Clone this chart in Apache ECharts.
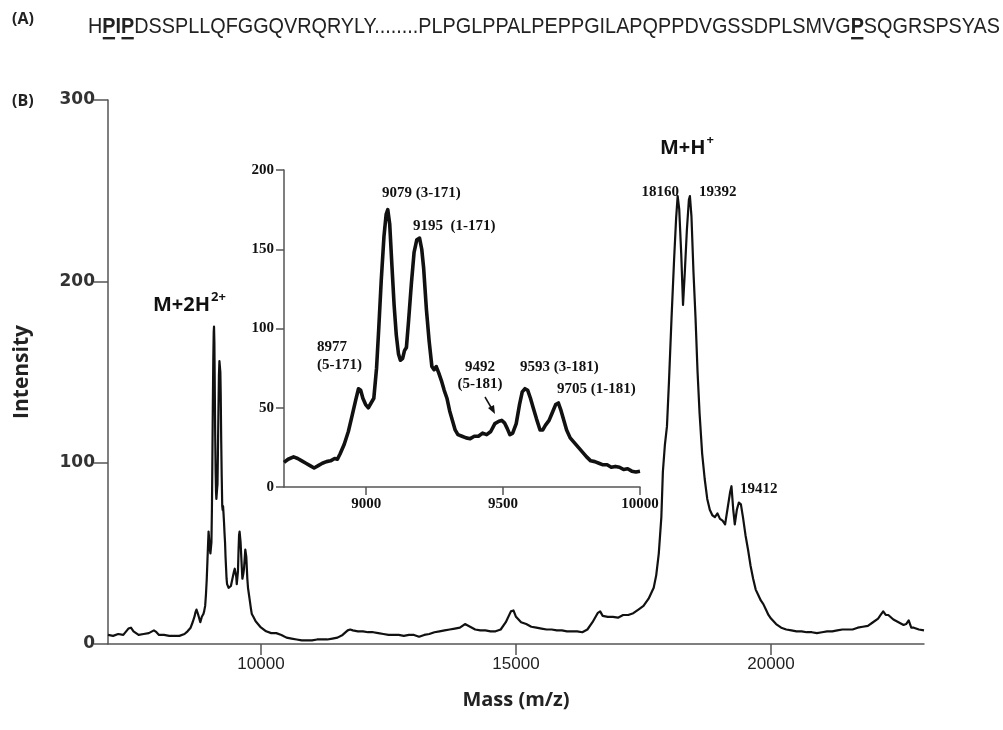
<!DOCTYPE html>
<html><head><meta charset="utf-8">
<script src="https://cdn.jsdelivr.net/npm/echarts@6/dist/echarts.min.js"></script>
<style>html,body{margin:0;padding:0;background:#fff}#c{width:1003px;height:730px}</style>
</head><body><div id="c"></div>
<script>
// ---------------- DATA ----------------
const massValues = [
 7000,7100,7200,7300,7400,7450,7500,7600,7700,7800,7900,7950,8000,8100,8200,8300,8400,8500,8560,8620,8660,
 8700,8715,8735,8750,8765,8780,8795,8810,8825,8840,8855,8870,8885,8895,8905,8920,8935,8950,8962,8972,8980,8988,8998,9008,9018,9028,9038,9046,9055,9065,9073,9079,9086,9094,9102,9110,9118,9125,9133,9140,9147,9155,9165,9175,9185,9195,9203,9210,9220,9230,9240,9248,9256,9265,9275,9285,9295,9305,9315,9325,9335,9350,9365,9380,9395,9410,9425,9440,9455,9470,9485,9495,9505,9515,9525,9535,9548,9560,9570,9580,9590,9600,9610,9622,9635,9645,9655,9668,9680,9692,9702,9712,9722,9732,9745,9760,9775,9790,9805,9820,9835,9850,9865,9880,9895,9910,9925,9940,9955,9970,9985,10000,
 10100,10200,10300,10400,10500,10600,10700,10800,10900,11000,11100,11200,11300,11400,11500,11600,11700,11750,11800,11900,12000,12100,12200,12300,12400,12500,12600,12700,12800,12900,13000,13100,13200,13300,13400,13500,13600,13700,13800,13900,14000,14100,14200,14300,14400,14500,14600,14700,14800,14900,14950,15000,15100,15200,15300,15400,15500,15600,15700,15800,15900,16000,16100,16200,16300,16400,16500,16600,16650,16700,16800,16900,17000,17100,17200,17300,17400,17500,17600,17700,17750,17800,17850,17880,17920,17960,18000,18050,18100,18140,18170,18200,18240,18275,18310,18350,18390,18410,18440,18480,18520,18560,18600,18650,18700,18750,18800,18850,18900,18950,19000,19050,19100,19150,19200,19225,19260,19290,19330,19370,19410,19450,19500,19550,19600,19650,19700,19750,19800,19850,19900,19950,20000,20100,20200,20300,20400,20500,20600,20700,20800,20900,21000,21100,21200,21300,21400,21500,21600,21700,21800,21900,22000,22100,22150,22200,22250,22300,22400,22500,22600,22650,22700,22750,22800,22900,23000
];
const intensityValues = [
 5,4.5,5.5,5,8.5,9,7,5,5.5,6,7.5,6.5,5,5,4.5,4.5,4.5,5.5,7,9,12,
 15.5,17.5,19,18,16.5,15,13.5,12,13.5,15,16,16.5,18,17.5,21,27,35,46,55,62,61,56,52,50,53,56,75,100,130,158,172,175,166,140,115,96,84,80,81,86,88,105,128,148,156,157,150,138,112,92,76,74,76,72,67,61,56,48,42,36,33,32,31,30.5,32,32,34,33,35,40,41.5,42,40.5,37,33,34,40,52,60,62,61,56,50,43,36,36,39,42,47,52,53,48,42,36,31,28,25,22,19,16.5,16,15,14,14,12.5,13,12.5,11,11.5,10,9.5,10,
 7,6,6,5,3.5,3,2.5,2,2,2,2.5,2.5,2.5,3,3.5,5,7.5,8,7.5,7,7,6.5,6.5,6,5.5,5,5,5,4.5,5,5,4,5,5.5,6.5,7,7.5,8,8.5,9,11,9.5,8,7.5,7.5,7,7,8,12,18,18.5,15,12,11,9.5,9,8.5,8,8,7.5,7.5,7,7,7,6.5,8,12,17,18,15.5,15,15,14.5,16,16,17,19,21,25,31,38,50,70,95,110,120,145,180,212,235,247,240,215,187,205,228,245,247,236,205,180,150,127,105,91,80,74,71,70,72,69,68,66,75,84,87,74,66,74,78,77,70,60,52,43,36,30,27,24,22,19,16,14,11,9,8,7.5,7,7,6.5,6.5,6,6.5,7,7,7.5,8,8,8,9,9.5,10,12,14,16,18,16,16,13.5,12,10.5,11,13,9,9,8,7.5
];
const mainXTicks = [10000, 15000, 20000];
const insetXTicks = [9000, 9500, 10000];
const insetMassRange = [8700, 10000];
const seqParts = [
 {t:'H', b:false, u:false},
 {t:'P', b:true, u:true},
 {t:'I', b:true, u:false},
 {t:'P', b:true, u:true},
 {t:'DSSPLLQFGGQVRQRYLY........PLPGLPPALPEPPGILAPQPPDVGSSDPLSMVG', b:false, u:false},
 {t:'P', b:true, u:true},
 {t:'SQGRSPSYAS', b:false, u:false}
];
const insetNotes = [
 ['9079 (3-171)', 'left'], ['9195  (1-171)', 'left'], ['8977', 'left'], ['(5-171)', 'left'],
 ['9492', 'center'], ['(5-181)', 'center'], ['9593 (3-181)', 'left'], ['9705 (1-181)', 'left']
];
const peakNotes = ['18160', '19392', '19412'];

// ---------------- CHART ----------------
const mainData = massValues.map((m, i) => [m, intensityValues[i]]);
const insetData = mainData.filter(p => p[0] >= insetMassRange[0] && p[0] <= insetMassRange[1]);

const SANS = '"Open Sans", "Noto Sans", sans-serif';
const SEQF = '"Liberation Sans", "Open Sans", sans-serif';
const SERIF = '"Liberation Serif", "DejaVu Serif", serif';
const ctx = document.createElement('canvas').getContext('2d');
function measure(text, font) { ctx.font = font; return ctx.measureText(text).width; }
const plain = v => String(v);

const axisCol = '#555';
const chart = echarts.init(document.getElementById('c'), null, {renderer: 'canvas'});

function txt(text, x, y, font, align, extra) {
  return {type: 'text', x: x, y: y, silent: true,
    style: Object.assign({text: text, font: font, fill: '#111', align: align || 'left', verticalAlign: 'middle',
      textAlign: align || 'left', textVerticalAlign: 'middle'}, extra || {})};
}

// sequence line
const seqSize = 22;
let cx = 0; const seqChildren = [];
seqParts.forEach(p => {
  const f = (p.b ? 'bold ' : '') + seqSize + 'px ' + SEQF;
  const w = measure(p.t, f);
  seqChildren.push({type: 'text', x: cx, y: 0, style: {text: p.t, font: f, fill: '#222', align: 'left', verticalAlign: 'middle', textAlign: 'left', textVerticalAlign: 'middle'}});
  if (p.u) seqChildren.push({type: 'rect', shape: {x: cx + 0.5, y: 10, width: w - 1, height: 2.4}, style: {fill: '#222'}});
  cx += w;
});
const seqScale = 912 / cx;

const bigFont = 'bold 20px ' + SANS;
const supFont = 'bold 13px ' + SANS;
const serifFont = 'bold 15px ' + SERIF;
const wM2H = measure('M+2H', bigFont);
const wMH = measure('M+H', bigFont);

const graphics = [
  txt('(A)', 12, 19, 'bold 16px ' + SANS, 'left', {fill: '#222'}),
  txt('(B)', 12, 101, 'bold 16px ' + SANS, 'left', {fill: '#222'}),
  {type: 'group', x: 88, y: 27, scaleX: seqScale, scaleY: 1, children: seqChildren},
  txt('M+2H', 153, 305, bigFont, 'left'),
  txt('2+', 153 + wM2H + 1, 297, supFont, 'left'),
  txt('M+H', 660, 148, bigFont, 'left'),
  txt('+', 660 + wMH + 1, 140, supFont, 'left'),
  txt(peakNotes[0], 679, 192, serifFont, 'right'),
  txt(peakNotes[1], 699, 192, serifFont, 'left'),
  txt(peakNotes[2], 740, 489, serifFont, 'left'),
  txt(insetNotes[0][0], 382, 193, serifFont, insetNotes[0][1]),
  txt(insetNotes[1][0], 413, 226, serifFont, insetNotes[1][1]),
  txt(insetNotes[2][0], 317, 347, serifFont, insetNotes[2][1]),
  txt(insetNotes[3][0], 317, 365, serifFont, insetNotes[3][1]),
  txt(insetNotes[4][0], 480, 367, serifFont, insetNotes[4][1]),
  txt(insetNotes[5][0], 480, 384, serifFont, insetNotes[5][1]),
  txt(insetNotes[6][0], 520, 367, serifFont, insetNotes[6][1]),
  txt(insetNotes[7][0], 557, 389, serifFont, insetNotes[7][1]),
  {type: 'line', silent: true, shape: {x1: 485, y1: 397, x2: 492, y2: 409}, style: {stroke: '#111', lineWidth: 1.5}},
  {type: 'polygon', silent: true, shape: {points: [[495, 414], [488, 408], [494, 405]]}, style: {fill: '#111'}}
];

const mainAxisCommon = {
  axisLine: {show: true, onZero: false, lineStyle: {color: axisCol, width: 1.5}},
  splitLine: {show: false}
};

chart.setOption({
  animation: false,
  backgroundColor: '#fff',
  grid: [
    {left: 108, top: 100, width: 816, height: 544, containLabel: false, outerBoundsMode: 'none'},
    {left: 284, top: 170, width: 356, height: 317, containLabel: false, outerBoundsMode: 'none'}
  ],
  xAxis: [
    Object.assign({gridIndex: 0, type: 'value', min: 7000, max: 23000,
      axisTick: {show: true, customValues: mainXTicks, length: 11, lineStyle: {color: axisCol, width: 1.5}},
      axisLabel: {customValues: mainXTicks, formatter: plain, margin: 12, color: '#222', fontSize: 17, fontFamily: SEQF},
      name: 'Mass (m/z)', nameLocation: 'middle', nameGap: 46,
      nameTextStyle: {fontFamily: SANS, fontWeight: 'bold', fontSize: 20, color: '#222'}}, mainAxisCommon),
    Object.assign({gridIndex: 1, type: 'value', min: insetMassRange[0], max: insetMassRange[1],
      axisTick: {show: true, customValues: insetXTicks, length: 8, lineStyle: {color: axisCol, width: 1.5}},
      axisLabel: {customValues: insetXTicks, formatter: plain, margin: 10, color: '#111', fontSize: 15, fontWeight: 'bold', fontFamily: SERIF}}, mainAxisCommon)
  ],
  yAxis: [
    Object.assign({gridIndex: 0, type: 'value', min: 0, max: 300, interval: 100,
      axisTick: {show: true, length: 14, lineStyle: {color: axisCol, width: 1.5}},
      axisLabel: {margin: 13, formatter: plain, color: '#333', fontSize: 17, fontWeight: 'bold', fontFamily: '"DejaVu Sans", sans-serif'},
      name: 'Intensity', nameLocation: 'middle', nameGap: 75, nameRotate: 90,
      nameTextStyle: {fontFamily: SANS, fontWeight: 'bold', fontSize: 21, color: '#222'}}, mainAxisCommon),
    Object.assign({gridIndex: 1, type: 'value', min: 0, max: 200, interval: 50,
      axisTick: {show: true, length: 8, lineStyle: {color: axisCol, width: 1.5}},
      axisLabel: {margin: 10, formatter: plain, color: '#111', fontSize: 15, fontWeight: 'bold', fontFamily: SERIF}}, mainAxisCommon)
  ],
  series: [
    {type: 'line', xAxisIndex: 0, yAxisIndex: 0, data: mainData, showSymbol: false, silent: true,
      lineStyle: {color: '#111', width: 2.2, join: 'round'}},
    {type: 'line', xAxisIndex: 1, yAxisIndex: 1, data: insetData, showSymbol: false, silent: true,
      lineStyle: {color: '#111', width: 3.6, join: 'round'}}
  ],
  graphic: graphics
});
</script>
</body></html>
